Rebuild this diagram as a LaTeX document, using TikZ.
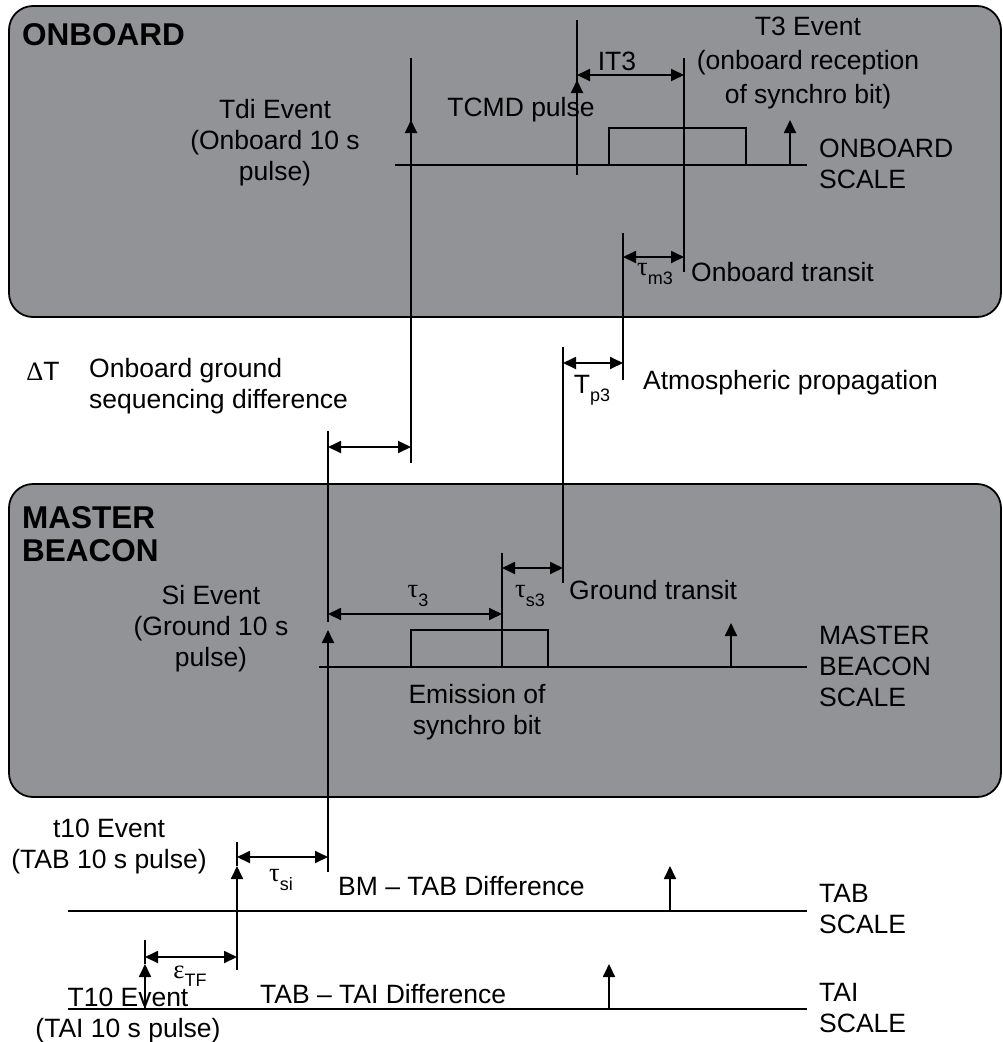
\documentclass[tikz,border=0pt]{standalone}
\usepackage{fontspec}
\setmainfont{Liberation Sans}
\newfontfamily\grk{Liberation Serif}
\usetikzlibrary{arrows.meta}
\definecolor{panelgray}{RGB}{146,147,151}
\newcommand\mysub[1]{\raisebox{-0.32em}{\fontsize{18}{18}\selectfont #1}}
\begin{document}
\begin{tikzpicture}[x=1pt,y=-1pt,
  every node/.style={inner sep=0pt,font=\fontsize{26.5}{31}\selectfont},
  panel/.style={draw=black,line width=1.8pt,fill=panelgray,rounded corners=24pt},
  ln/.style={line width=1.8pt},
  evt/.style={line width=1.8pt,-{Triangle[length=13pt,width=12pt]}},
  dim/.style={line width=1.8pt,{Triangle[length=13pt,width=12pt]}-{Triangle[length=13pt,width=12pt]}},
  title/.style={font=\fontsize{31.5}{33}\selectfont\bfseries,align=left,anchor=west},
  lbl/.style={align=left,anchor=west},
  ctr/.style={align=center}]
\useasboundingbox (0,0) rectangle (1003,1042);
% panels
\draw[panel] (9,6) rectangle (1001,317);
\draw[panel] (9,484) rectangle (1001,797);

% ---------- coordinates ----------
% onboard
\coordinate (obL) at (395,165);  \coordinate (obR) at (807,165);
\coordinate (tdiT) at (411,58);  \coordinate (tdiB) at (411,463);
\coordinate (tdiS) at (411,165); \coordinate (tdiA) at (411,120);
\coordinate (tcT) at (577,20);   \coordinate (tcB) at (577,175);
\coordinate (tcS) at (577,165);  \coordinate (tcA) at (577,80);
\coordinate (it3L) at (577,75);  \coordinate (it3R) at (684,75);
\coordinate (t3T) at (684,58);   \coordinate (t3B) at (684,272);
\coordinate (pb1) at (609,165);  \coordinate (pb2) at (746,128); \coordinate (pb3) at (746,165);
\coordinate (obeS) at (790,165); \coordinate (obeA) at (790,120);
\coordinate (m3T) at (623,233);  \coordinate (m3B) at (623,380);
\coordinate (m3L) at (623,257);  \coordinate (m3R) at (684,257);
\coordinate (p3T) at (563,347);  \coordinate (p3B) at (563,583);
\coordinate (p3L) at (563,363);  \coordinate (p3R) at (623,363);
\coordinate (dtL) at (328,447);  \coordinate (dtR) at (411,447);
\coordinate (siT) at (328,431);  \coordinate (siM) at (328,622);
% master
\coordinate (msL) at (319,667);  \coordinate (msR) at (807,667);
\coordinate (siB) at (328,872);  \coordinate (siA) at (328,630);
\coordinate (t3dL) at (328,614); \coordinate (t3dR) at (502,614);
\coordinate (emT) at (502,553);  \coordinate (emB) at (502,667);
\coordinate (mp1) at (411,667);  \coordinate (mp2) at (548,630); \coordinate (mp3) at (548,667);
\coordinate (s3L) at (502,568);  \coordinate (s3R) at (563,568);
\coordinate (mbS) at (731,667);  \coordinate (mbA) at (731,623);
% bottom
\coordinate (tabL) at (68,911);  \coordinate (tabR) at (807,911);
\coordinate (t10T) at (237,842); \coordinate (t10B) at (237,970); \coordinate (t10A) at (237,866);
\coordinate (siL) at (237,857);  \coordinate (siR) at (328,857);
\coordinate (tabS) at (670,911); \coordinate (tabA) at (670,866);
\coordinate (efL) at (145,957);  \coordinate (efR) at (237,957);
\coordinate (T10T) at (145,940); \coordinate (T10B) at (145,1009); \coordinate (T10A) at (145,964);
\coordinate (taiL) at (68,1009); \coordinate (taiR) at (807,1009);
\coordinate (taiS) at (609,1009);\coordinate (taiA) at (609,964);

% ---------- lines ----------
\draw[ln] (obL) -- (obR);
\draw[ln] (tdiT) -- (tdiB);
\draw[evt] (tdiS) -- (tdiA);
\draw[ln] (tcT) -- (tcB);
\draw[evt] (tcS) -- (tcA);
\draw[dim] (it3L) -- (it3R);
\draw[ln] (t3T) -- (t3B);
\draw[ln] (pb1) |- (pb2) -- (pb3);
\draw[evt] (obeS) -- (obeA);
\draw[ln] (m3T) -- (m3B);
\draw[dim] (m3L) -- (m3R);
\draw[ln] (p3T) -- (p3B);
\draw[dim] (p3L) -- (p3R);
\draw[dim] (dtL) -- (dtR);
\draw[ln] (siT) -- (siM);

\draw[ln] (msL) -- (msR);
\draw[evt] (siB) -- (siA);
\draw[dim] (t3dL) -- (t3dR);
\draw[ln] (emT) -- (emB);
\draw[ln] (mp1) |- (mp2) -- (mp3);
\draw[dim] (s3L) -- (s3R);
\draw[evt] (mbS) -- (mbA);

\draw[ln] (tabL) -- (tabR);
\draw[ln] (t10T) -- (t10A);
\draw[evt] (t10B) -- (t10A);
\draw[dim] (siL) -- (siR);
\draw[evt] (tabS) -- (tabA);
\draw[dim] (efL) -- (efR);
\draw[ln] (T10T) -- (T10A);
\draw[evt] (T10B) -- (T10A);
\draw[ln] (taiL) -- (taiR);
\draw[evt] (taiS) -- (taiA);

% ---------- texts ----------
\node[title] (tOnb) at (22,35) {ONBOARD};
\node[ctr] (tTdi) at (275,143) {Tdi Event\\(Onboard 10 s\\pulse)};
\node (tTcmd) at (521,110) {TCMD pulse};
\node (tIT3) at (617,61) {IT3};
\node[ctr,font=\fontsize{26.5}{34}\selectfont] (tT3) at (808,63) {T3 Event\\(onboard reception\\of synchro bit)};
\node[lbl] (tObs) at (819,164) {ONBOARD\\SCALE};
\node[lbl] (tObt) at (691,272) {Onboard transit};
\node (tm3) at (655,274) {{\grk τ}\mysub{m3}};
\node[lbl] (tAtm) at (643,383) {Atmospheric propagation};
\node (tp3) at (592,390) {T\mysub{p3}};
\node (tDT) at (43,371) {{\grk Δ}T};
\node[lbl] (tOgs) at (89,386) {Onboard ground\\sequencing difference};

\node[title] (tMb) at (22,534) {MASTER\\BEACON};
\node[ctr] (tSi) at (211,629) {Si Event\\(Ground 10 s\\pulse)};
\node (tt3) at (418,596) {{\grk τ}\mysub{3}};
\node (ts3) at (530,596) {{\grk τ}\mysub{s3}};
\node[lbl] (tGt) at (569,590) {Ground transit};
\node[ctr] (tEm) at (477,712) {Emission of\\synchro bit};
\node[lbl] (tMbs) at (819,666) {MASTER\\BEACON\\SCALE};

\node[ctr] (tt10) at (109,846) {t10 Event\\(TAB 10 s pulse)};
\node (tsi) at (281,880) {{\grk τ}\mysub{si}};
\node[lbl] (tBm) at (338,886) {BM -- TAB Difference};
\node[lbl] (tTabs) at (819,909) {TAB\\SCALE};
\node (tef) at (190,976) {{\grk ε}\mysub{TF}};
\node[ctr] (tT10) at (128,1015) {T10 Event\\(TAI 10 s pulse)};
\node[lbl] (tTai) at (260,994) {TAB -- TAI Difference};
\node[lbl] (tTais) at (819,1008) {TAI\\SCALE};
\end{tikzpicture}
\end{document}
